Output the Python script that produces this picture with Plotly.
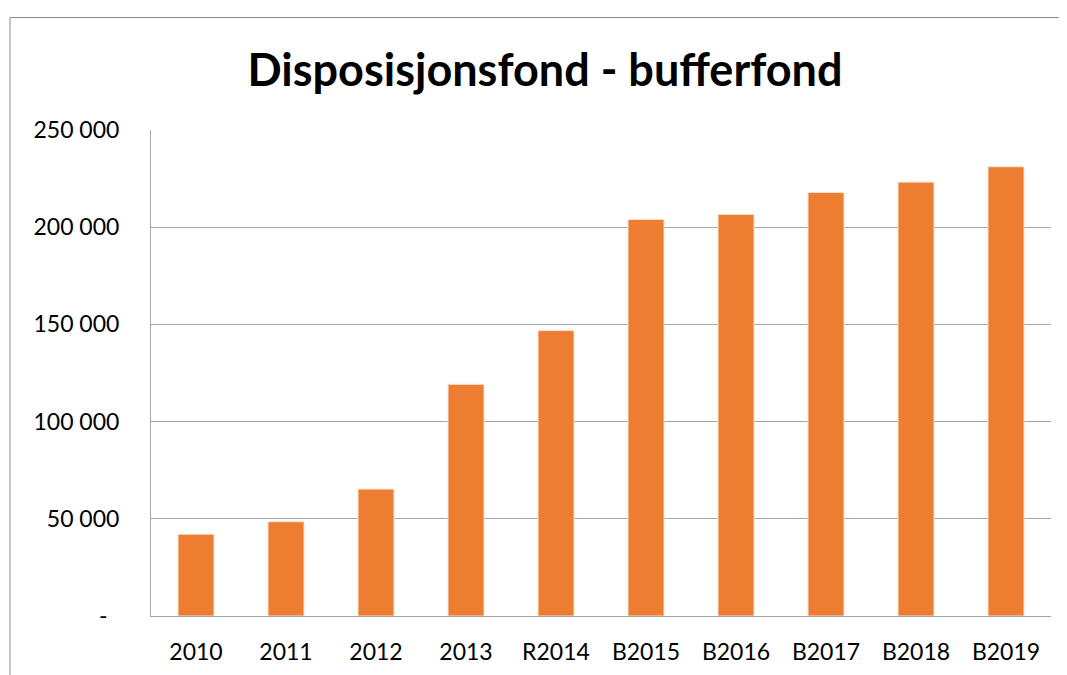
import plotly.graph_objects as go

# Values
categories = ["2010", "2011", "2012", "2013", "R2014", "B2015", "B2016", "B2017", "B2018", "B2019"]
values = [42100, 48500, 65300, 119200, 146800, 204000, 206600, 217900, 223200, 231100]

tick_vals = [0, 50000, 100000, 150000, 200000, 250000]
tick_text = ["-\u00a0\u00a0", "50 000", "100 000", "150 000", "200 000", "250 000"]

font_family = "Lato, 'Open Sans', sans-serif"

# the page body adds an 8px margin, so the figure is sized to fit inside the window
W, H = 1059, 667
ML, MT, PW, PH = 143, 122, 900, 486

fig = go.Figure()
fig.add_trace(go.Bar(
    x=categories,
    y=values,
    marker=dict(color="#ED7D31", line=dict(color="#FBE3D3", width=1)),
    width=0.4,
    hoverinfo="x+y",
))

fig.update_layout(
    width=W,
    height=H,
    margin=dict(l=ML, r=W - ML - PW, t=MT, b=H - MT - PH, autoexpand=False),
    paper_bgcolor="white",
    plot_bgcolor="white",
    showlegend=False,
    font=dict(family=font_family, size=23, color="black"),
    title=dict(
        text="<b>Disposisjonsfond - bufferfond</b>",
        x=537 / W, xanchor="center",
        y=1 - 62 / H, yanchor="middle",
        yref="container",
        font=dict(family=font_family, size=45, color="black"),
    ),
    xaxis=dict(
        automargin=False,
        showgrid=False,
        showline=True, linecolor="#A6A6A6", linewidth=1,
        ticks="outside", tickcolor="rgba(0,0,0,0)", ticklen=15,
        tickfont=dict(size=23),
    ),
    yaxis=dict(
        automargin=False,
        range=[0, 250000],
        tickvals=tick_vals,
        ticktext=tick_text,
        showgrid=True, gridcolor="#A6A6A6", gridwidth=1,
        showline=True, linecolor="#A6A6A6", linewidth=1,
        zeroline=False,
        ticks="outside", tickcolor="rgba(0,0,0,0)", ticklen=26,
        tickfont=dict(size=23),
    ),
    shapes=[dict(
        type="rect", xref="paper", yref="paper",
        x0=(2 - ML) / PW, x1=1.2,
        y0=-0.3, y1=1 + (MT - 9.5) / PH,
        line=dict(color="#8C8C8C", width=1),
        fillcolor="rgba(0,0,0,0)",
        layer="below",
    )],
)

fig.write_html("out.html")
